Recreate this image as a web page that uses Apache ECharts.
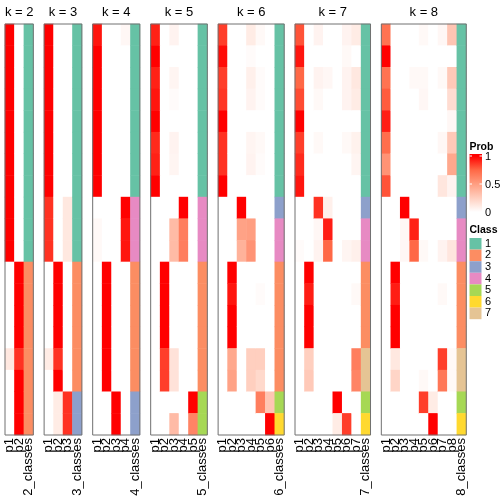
<!DOCTYPE html>
<html><head><meta charset="utf-8">
<script src="https://cdn.jsdelivr.net/npm/echarts@6/dist/echarts.min.js"></script>
<style>html,body{margin:0;padding:0;background:#fff}#c{width:504px;height:504px}</style>
</head><body><div id="c"></div><script>
// ---- data ----
const kValues = [2, 3, 4, 5, 6, 7, 8];
const rowNames = ['s1','s2','s3','s4','s5','s6','s7','s8','s9','s10','s11','s12','s13','s14','s15','s16','s17','s18','s19'];

const k2Prob = [
  [1,1,1,1,1,1,1,1,1,1,1, 0,0,0,0,0.12,0,0,0],
  [0,0,0,0,0,0,0,0,0,0,0, 1,1,1,1,0.88,1,1,1]
];
const k2Class = [1,1,1,1,1,1,1,1,1,1,1, 2,2,2,2,2,2,2,2];

const k3Prob = [
  [1,1,1,1,1,1,1,1,0.88,0.88,0.88, 0,0,0,0,0.1,0,0,0],
  [0,0,0,0,0,0,0,0,0,0,0, 1,1,1,1,0.88,1,0.1,0.1],
  [0,0,0,0,0,0,0,0,0.12,0.12,0.12, 0,0,0,0,0,0,0.88,0.88]
];
const k3Class = [1,1,1,1,1,1,1,1,1,1,1, 2,2,2,2,2,2, 3,3];

const k4Prob = [
  [0.95,1,1,1,1,1,1,1, 0,0.03,0.03, 0,0,0,0,0,0,0,0],
  [0,0,0,0,0,0,0,0, 0,0,0, 1,1,1,1,1,1,0,0],
  [0,0,0,0,0,0,0,0, 0,0,0, 0,0,0,0,0,0,1,1],
  [0.04,0,0,0,0,0,0,0, 1,0.95,0.95, 0,0,0,0,0,0,0,0]
];
const k4Class = [1,1,1,1,1,1,1,1, 4,4,4, 2,2,2,2,2,2, 3,3];

const k5Prob = [
  [0.92,1,0.92,0.95,1,0.9,0.92,1, 0,0,0, 0,0,0,0,0,0,0,0],
  [0,0,0,0,0,0,0,0, 0,0,0, 1,1,1,1,0.85,0.85,0,0],
  [0.06,0,0.05,0.02,0,0.06,0.05,0, 0,0.35,0.35, 0,0,0,0,0.15,0.15,0,0.35],
  [0,0,0,0,0,0,0,0, 1,0.65,0.65, 0,0,0,0,0,0,0,0],
  [0,0,0,0,0,0,0,0, 0,0,0, 0,0,0,0,0,0,1,0.62]
];
const k5Class = [1,1,1,1,1,1,1,1, 4,4,4, 2,2,2,2,2,2, 5,5];

const k6Prob = [
  [0.85,0.97,0.85,0.87,1,0.88,0.88,1, 0,0,0, 0,0,0,0,0,0,0,0],
  [0,0,0,0,0,0,0,0, 0,0,0, 1,0.95,1,1,0.45,0.48,0,0],
  [0,0,0,0,0,0,0,0, 1,0.48,0.4, 0,0,0,0,0,0,0,0],
  [0.1,0.02,0.08,0.06,0,0.05,0.06,0, 0,0.5,0.55, 0,0,0,0,0.25,0.25,0,0],
  [0.03,0,0.02,0.02,0,0.03,0.02,0, 0,0,0, 0,0.02,0,0,0.25,0.2,0.65,0],
  [0,0,0,0,0,0,0,0, 0,0,0, 0,0,0,0,0,0,0.3,1]
];
const k6Class = [1,1,1,1,1,1,1,1, 3, 4,4, 2,2,2,2,2,2, 5, 6];

const k7Prob = [
  [0.8,0.95,0.75,0.82,1,0.85,0.9,0.95, 0,0,0.02, 0,0,0,0,0,0,0,0],
  [0,0,0,0,0,0,0,0, 0,0,0, 1,0.93,1,1,0.25,0.28,0,0],
  [0.06,0,0.06,0.03,0,0.03,0,0, 0.88,0.04,0.06, 0,0,0,0,0,0,0,0],
  [0,0,0.04,0,0,0,0,0, 0.08,0.93,0.75, 0,0,0,0,0,0,0,0],
  [0,0,0,0,0,0,0,0, 0,0,0, 0,0,0,0,0,0,1,0.1],
  [0.06,0.03,0.06,0.06,0,0.03,0,0, 0,0,0.05, 0,0,0,0,0,0,0,0.85],
  [0.1,0,0.12,0.1,0,0.07,0.05,0, 0,0,0.08, 0,0.03,0,0,0.65,0.62,0,0]
];
const k7Class = [1,1,1,1,1,1,1,1, 3, 4,4, 2,2,2,2, 7,7, 5, 6];

const k8Prob = [
  [0.7,1,0.7,0.78,0.93,0.72,0.55,0.8, 0,0,0, 0,0,0,0,0,0,0,0],
  [0,0,0,0,0,0,0,0, 0,0,0, 1,0.93,1,1,0.12,0.22,0,0],
  [0,0,0,0,0,0,0,0, 1,0.04,0.04, 0,0,0,0,0,0,0,0],
  [0,0,0.03,0,0,0,0,0, 0,0.92,0.75, 0,0,0,0,0,0,0,0],
  [0.03,0,0.03,0.04,0,0,0,0, 0,0,0.03, 0,0,0,0,0,0.03,0.85,0],
  [0,0,0,0,0,0,0,0, 0,0,0, 0,0,0,0,0,0,0.1,1],
  [0.04,0,0.03,0,0,0.04,0,0.13, 0,0,0.06, 0,0.03,0,0,0.85,0.68,0,0],
  [0.3,0,0.28,0.18,0.04,0.28,0.45,0.06, 0,0,0.13, 0,0,0,0,0.03,0.03,0,0]
];
const k8Class = [1,1,1,1,1,1,1,1, 3, 4,4, 2,2,2,2, 7,7, 5, 6];

const classNames = ['1','2','3','4','5','6','7'];
const classColors = ['#66C2A5','#FC8D62','#8DA0CB','#E78AC3','#A6D854','#FFD92F','#E5C494'];
const probTickLabels = ['1','0.5','0'];
const probTickValues = [1, 0.5, 0];
const probColors = ['#FFFFFF','#FFCFBF','#FF9E81','#FF6846','#FF0000'];

// ---- layout ----
const probSets = [k2Prob,k3Prob,k4Prob,k5Prob,k6Prob,k7Prob,k8Prob];
const classSets = [k2Class,k3Class,k4Class,k5Class,k6Class,k7Class,k8Class];
const FONT = "'Liberation Sans', Arial, Helvetica, sans-serif";
const colW = 9.44, gap = 10.8, left0 = 5, gridTop = 24, gridH = 411;

const grids = [], xAxes = [], yAxes = [], probSeries = [], classSeries = [], graphics = [];
let px = left0;
kValues.forEach((k, i) => {
  const n = k + 1, w = n * colW;
  grids.push({left: px, top: gridTop, width: w, height: gridH, containLabel: false});
  const cats = [];
  for (let j = 1; j <= k; j++) cats.push('p' + j);
  cats.push(k + '_classes');
  xAxes.push({type: 'category', gridIndex: i, data: cats, position: 'bottom',
    axisLine: {show: false}, axisTick: {show: false}, splitLine: {show: false},
    axisLabel: {rotate: 90, margin: 3, fontSize: 13, color: '#000', fontFamily: FONT, interval: 0}});
  yAxes.push({type: 'category', gridIndex: i, data: rowNames, inverse: true, show: false});
  const pd = [];
  probSets[i].forEach((col, j) => col.forEach((v, r) => pd.push([j, r, v])));
  probSeries.push({type: 'heatmap', xAxisIndex: i, yAxisIndex: i, data: pd,
    emphasis: {disabled: true}, itemStyle: {borderWidth: 0}, animation: false});
  const cd = classSets[i].map((c, r) => [k, r, c]);
  classSeries.push({type: 'heatmap', xAxisIndex: i, yAxisIndex: i, data: cd,
    emphasis: {disabled: true}, itemStyle: {borderWidth: 0}, animation: false});
  graphics.push({type: 'rect', shape: {x: px, y: gridTop, width: w, height: gridH},
    style: {fill: 'none', stroke: '#707070', lineWidth: 1}, z: 100});
  graphics.push({type: 'text', x: px + w / 2, y: 12, z: 100,
    style: {text: 'k = ' + k, align: 'center', verticalAlign: 'middle', fontSize: 13, fontFamily: FONT, fill: '#000'}});
  px += w + gap;
});

// legend: Prob
const lx = 469.5, barTop = 154, barH = 60;
const yOf = v => 212 - v * 56;
graphics.push({type: 'text', x: lx, y: 147, z: 100,
  style: {text: 'Prob', align: 'left', verticalAlign: 'middle', fontSize: 10.5, fontWeight: 'bold', fontFamily: FONT, fill: '#000'}});
const stops = probColors.map((c, idx) => ({offset: (yOf(idx / (probColors.length - 1)) - barTop) / barH, color: c}));
stops.sort((a, b) => a.offset - b.offset);
graphics.push({type: 'rect', shape: {x: lx, y: barTop, width: 12.5, height: barH}, z: 100,
  style: {fill: {type: 'linear', x: 0, y: 0, x2: 0, y2: 1,
    colorStops: [{offset: 0, color: '#FF0000'}].concat(stops).concat([{offset: 1, color: '#FFFFFF'}])}}});
probTickValues.forEach((v, idx) => {
  const yy = yOf(v);
  if (v > 0) {
    graphics.push({type: 'line', shape: {x1: lx, y1: yy, x2: lx + 2.5, y2: yy}, style: {stroke: '#fff', lineWidth: 1}, z: 101});
    graphics.push({type: 'line', shape: {x1: lx + 10, y1: yy, x2: lx + 12.5, y2: yy}, style: {stroke: '#fff', lineWidth: 1}, z: 101});
  }
  graphics.push({type: 'text', x: 485, y: yy + 1, z: 100,
    style: {text: probTickLabels[idx], align: 'left', verticalAlign: 'middle', fontSize: 11, fontFamily: FONT, fill: '#000'}});
});
// legend: Class
graphics.push({type: 'text', x: lx, y: 230, z: 100,
  style: {text: 'Class', align: 'left', verticalAlign: 'middle', fontSize: 10.5, fontWeight: 'bold', fontFamily: FONT, fill: '#000'}});
classNames.forEach((nm, idx) => {
  const yy = 238 + idx * 11.6;
  graphics.push({type: 'rect', shape: {x: lx, y: yy, width: 12, height: 11.6}, style: {fill: classColors[idx]}, z: 100});
  graphics.push({type: 'text', x: 485, y: yy + 5.8, z: 100,
    style: {text: nm, align: 'left', verticalAlign: 'middle', fontSize: 11, fontFamily: FONT, fill: '#000'}});
});

const chart = echarts.init(document.getElementById('c'), null, {renderer: 'canvas'});
chart.setOption({
  animation: false,
  backgroundColor: '#fff',
  grid: grids, xAxis: xAxes, yAxis: yAxes,
  visualMap: [
    {type: 'continuous', show: false, min: 0, max: 1, dimension: 2,
      seriesIndex: probSeries.map((s, i) => i), inRange: {color: probColors}},
    {type: 'piecewise', show: false, dimension: 2,
      seriesIndex: classSeries.map((s, i) => i + probSeries.length),
      pieces: classColors.map((c, i) => ({value: i + 1, color: c}))}
  ],
  series: probSeries.concat(classSeries),
  graphic: graphics
});
</script></body></html>
